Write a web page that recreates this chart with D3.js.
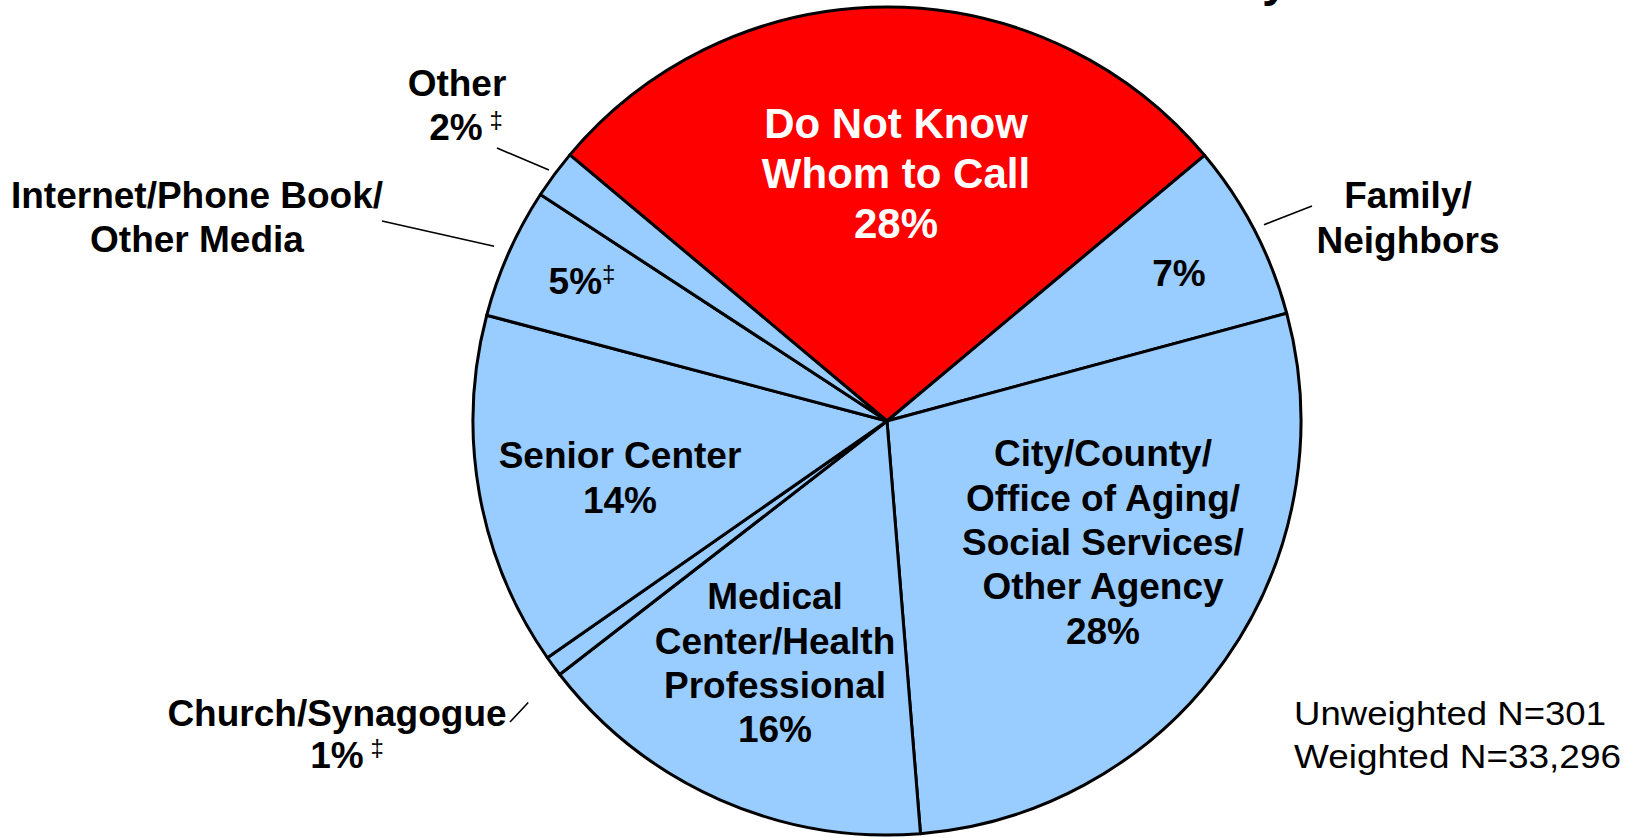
<!DOCTYPE html>
<html lang="en">
<head>
  <meta charset="UTF-8">
  <title>Whom to Call</title>
  <script src="https://d3js.org/d3.v7.min.js"></script>
  <style>
    body { margin: 0; background: #fff; }
    svg text { font-family: "Liberation Sans", Arial, sans-serif; }
  </style>
</head>
<body>
  <div id="my_dataviz"></div>
  <script>

    // slices, clockwise from the red one
    var categories = ["Do Not Know Whom to Call", "Family/Neighbors",
      "City/County/Office of Aging/Social Services/Other Agency",
      "Medical Center/Health Professional", "Church/Synagogue",
      "Senior Center", "Internet/Phone Book/Other Media", "Other"];
    var values = [27.8, 6.9, 27.9, 15.8, 0.8, 13.8, 5.1, 1.9];
    var pctLabels = ["28%", "7%", "28%", "16%", "1%", "14%", "5%", "2%"];
    var colors = ["#ff0000", "#99ccff", "#99ccff", "#99ccff", "#99ccff", "#99ccff", "#99ccff", "#99ccff"];
    var sampleNotes = ["Unweighted N=301", "Weighted N=33,296"];

    var width = 1629, height = 838;
    var cx = 887, cy = 421, radius = 414;
    var rad = Math.PI / 180;

    var svg = d3.select("#my_dataviz")
      .append("svg")
      .attr("width", width)
      .attr("height", height);

    // bit of the cut-off title above
    svg.append("text")
      .attr("x", 1262).attr("y", -4)
      .style("font-size", "48px").style("font-weight", "bold")
      .text("y");

    var pie = d3.pie()
      .sort(null)
      .value(function (d) { return d; })
      .startAngle(-50 * rad)
      .endAngle(310 * rad);

    var arc = d3.arc().innerRadius(0).outerRadius(radius);
    var arcs = pie(values);

    var g = svg.append("g")
      .attr("transform", "translate(" + cx + "," + cy + ")");

    g.selectAll("path")
      .data(arcs)
      .enter()
      .append("path")
      .attr("d", arc)
      .attr("fill", function (d, i) { return colors[i]; })
      .attr("stroke", "#000")
      .attr("stroke-width", 3)
      .attr("stroke-linejoin", "round");

    // leader lines: from just outside the slice out to the label
    var leaders = [
      { i: 1, r: 425, to: [1312, 206] },
      { i: 4, r: 456, shift: -1.8, to: [510, 722] },
      { i: 6, r: 430, to: [382, 221] },
      { i: 7, r: 421, to: [497, 148] }
    ];
    leaders.forEach(function (l) {
      var a = arcs[l.i];
      var ang = (a.startAngle + a.endAngle) / 2 + (l.shift || 0) * rad;
      var p = d3.pointRadial(ang, l.r);
      svg.append("line")
        .attr("x1", cx + p[0]).attr("y1", cy + p[1])
        .attr("x2", l.to[0]).attr("y2", l.to[1])
        .attr("stroke", "#000")
        .attr("stroke-width", 1.6);
    });

    // label text blocks (x = centre, y = first line middle)
    var labels = [
      { i: 0, x: 896, y: 123, dy: 50, size: 42, fill: "#fff", lines: ["Do Not Know", "Whom to Call"] },
      { i: 1, x: 1408, y: 195, dy: 45, size: 37, lines: ["Family/", "Neighbors"], pctAt: [1179, 273] },
      { i: 2, x: 1103, y: 453, dy: 44.3, size: 37, lines: ["City/County/", "Office of Aging/", "Social Services/", "Other Agency"] },
      { i: 3, x: 775, y: 596, dy: 44.3, size: 37, lines: ["Medical", "Center/Health", "Professional"] },
      { i: 4, x: 337, y: 713, dy: 42, size: 37, lines: ["Church/Synagogue"], dagger: " ", pctX: 347 },
      { i: 5, x: 620, y: 455, dy: 45, size: 37, lines: ["Senior Center"] },
      { i: 6, x: 197, y: 195, dy: 44, size: 37, lines: ["Internet/Phone Book/", "Other Media"], pctAt: [582, 281], dagger: "" },
      { i: 7, x: 457, y: 83, dy: 44, size: 37, lines: ["Other"], dagger: " ", pctX: 466 }
    ];

    function addLine(x, y, size, fill, str, dagger) {
      var t = svg.append("text")
        .attr("x", x)
        .attr("y", y + size * 0.36)
        .attr("text-anchor", "middle")
        .attr("fill", fill || "#000")
        .style("font-size", size + "px")
        .style("font-weight", "bold")
        .text(str);
      if (dagger !== undefined) {
        t.append("tspan")
          .style("font-size", "24px")
          .style("font-weight", "normal")
          .attr("dy", -12)
          .text(dagger + "\u2021");
      }
      return t;
    }

    labels.forEach(function (l) {
      l.lines.forEach(function (s, k) {
        addLine(l.x, l.y + k * l.dy, l.size, l.fill, s);
      });
      if (l.pctAt) {
        addLine(l.pctAt[0], l.pctAt[1], l.size, l.fill, pctLabels[l.i], l.dagger);
      } else {
        addLine(l.pctX || l.x, l.y + l.lines.length * l.dy, l.size, l.fill, pctLabels[l.i], l.dagger);
      }
    });

    // sample size note
    var noteWidths = [312, 327];
    svg.selectAll(".note")
      .data(sampleNotes)
      .enter()
      .append("text")
      .attr("class", "note")
      .attr("x", 1294)
      .attr("y", function (d, i) { return 713 + i * 43 + 12; })
      .attr("textLength", function (d, i) { return noteWidths[i]; })
      .attr("lengthAdjust", "spacingAndGlyphs")
      .style("font-size", "33px")
      .text(function (d) { return d; });

  </script>
</body>
</html>
